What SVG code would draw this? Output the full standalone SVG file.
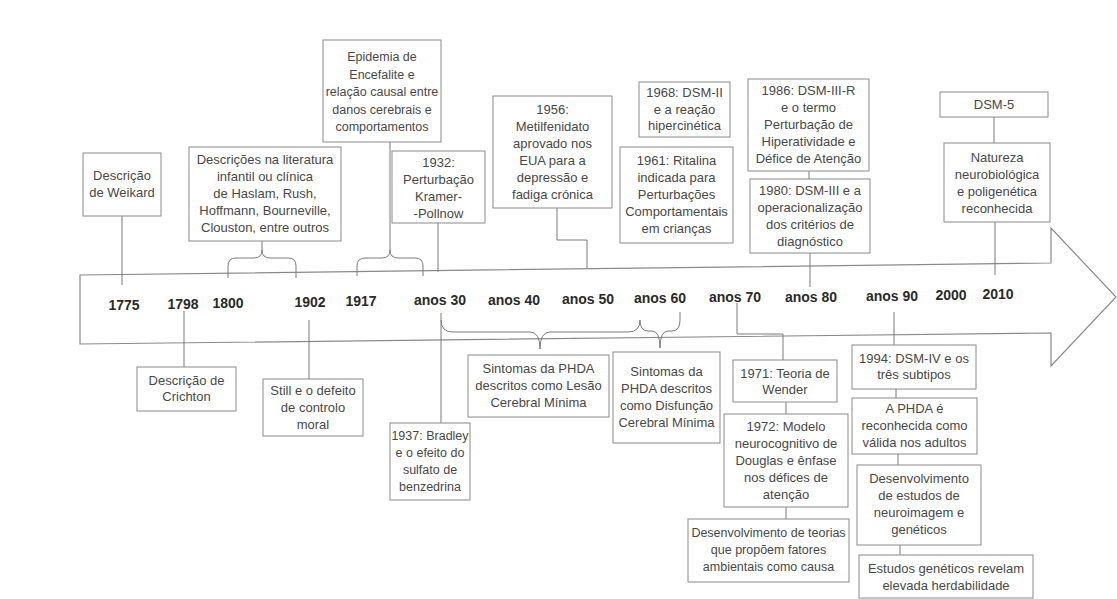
<svg xmlns="http://www.w3.org/2000/svg" width="1117" height="599" viewBox="0 0 1117 599">
<style>
.bx{fill:#fff;stroke:#8a8a8a;stroke-width:1}
.t{font-family:"Liberation Sans",Arial,sans-serif;font-size:13px;fill:#484848;text-anchor:middle}
.s{font-size:12.5px}
.yr{font-family:"Liberation Sans",Arial,sans-serif;font-size:14px;font-weight:bold;fill:#2a2a2a;text-anchor:middle}
.ln{fill:none;stroke:#7a7a7a;stroke-width:1}
.ax{fill:#fff;stroke:#8a8a8a;stroke-width:1.2}
</style>
<rect width="1117" height="599" fill="#fff"/>
<g id="timeline-axis">
<polygon class="ax" points="80,275 1051,263 1051,228 1116,297 1051,366 1051,333 80,344"/>
<text class="yr" x="124" y="310">1775</text>
<text class="yr" x="183" y="309">1798</text>
<text class="yr" x="228" y="308">1800</text>
<text class="yr" x="310" y="307">1902</text>
<text class="yr" x="361" y="306">1917</text>
<text class="yr" x="440" y="305">anos 30</text>
<text class="yr" x="514" y="305">anos 40</text>
<text class="yr" x="588" y="304">anos 50</text>
<text class="yr" x="660" y="303">anos 60</text>
<text class="yr" x="735" y="302">anos 70</text>
<text class="yr" x="811" y="302">anos 80</text>
<text class="yr" x="892" y="301">anos 90</text>
<text class="yr" x="951" y="300">2000</text>
<text class="yr" x="998" y="299">2010</text>
</g>
<g id="connectors">
<path class="ln" d="M122,216 V285"/>
<path class="ln" d="M228,278 V266 Q228,258 236,258 H254 Q262,258 262,250 Q262,258 270,258 H288 Q296,258 296,266 V278 M262,250 V241"/>
<path class="ln" d="M357,276 V266 Q357,258 365,258 H382 Q390,258 390,250 Q390,258 398,258 H415 Q423,258 423,266 V276 M390,250 V142"/>
<path class="ln" d="M438,223 V272"/>
<path class="ln" d="M557,208 V240 H587 V268"/>
<path class="ln" d="M809,171 V179"/>
<path class="ln" d="M810,253 V287"/>
<path class="ln" d="M994,117 V143"/>
<path class="ln" d="M995,222 V275"/>
<path class="ln" d="M184,311 V367"/>
<path class="ln" d="M309,320 V379"/>
<path class="ln" d="M441,313 V423"/>
<path class="ln" d="M441,320 Q441,332 453,332 H530 Q540,332 540,349 Q540,332 550,332 H628 Q640,332 640,320"/>
<path class="ln" d="M640,320 Q640,331 648,331 H652 Q660,331 660,348 Q660,331 668,331 H672 Q680,331 680,320 V312"/>
<path class="ln" d="M737,303 V334 H783 V360"/>
<path class="ln" d="M786,402 V414"/>
<path class="ln" d="M786,507 V519"/>
<path class="ln" d="M894,312 V345"/>
<path class="ln" d="M896,389 V398"/>
<path class="ln" d="M898,454 V465"/>
<path class="ln" d="M900,545 V555"/>
</g>
<g id="weikard">
<rect class="bx" x="83" y="153" width="78" height="63"/>
<text class="t" y="180"><tspan x="122">Descrição</tspan><tspan x="122" dy="17">de Weikard</tspan></text>
</g>
<g id="descricoes">
<rect class="bx" x="189" y="147" width="152" height="94"/>
<text class="t" y="164"><tspan x="265">Descrições na literatura</tspan><tspan x="265" dy="17">infantil ou clínica</tspan><tspan x="265" dy="17">de Haslam, Rush,</tspan><tspan x="265" dy="17">Hoffmann, Bourneville,</tspan><tspan x="265" dy="17">Clouston, entre outros</tspan></text>
</g>
<g id="epidemia">
<rect class="bx" x="323" y="40" width="118" height="102"/>
<text class="t s" y="61"><tspan x="382">Epidemia de</tspan><tspan x="382" dy="17.5">Encefalite e</tspan><tspan x="382" dy="17.5">relação causal entre</tspan><tspan x="382" dy="17.5">danos cerebrais e</tspan><tspan x="382" dy="17.5">comportamentos</tspan></text>
</g>
<g id="kramer">
<rect class="bx" x="392" y="151" width="93" height="72"/>
<text class="t" y="167"><tspan x="438.5">1932:</tspan><tspan x="438.5" dy="17">Perturbação</tspan><tspan x="438.5" dy="17">Kramer-</tspan><tspan x="438.5" dy="17">-Pollnow</tspan></text>
</g>
<g id="metilfenidato">
<rect class="bx" x="493" y="96" width="119" height="112"/>
<text class="t" y="114"><tspan x="552.5">1956:</tspan><tspan x="552.5" dy="17">Metilfenidato</tspan><tspan x="552.5" dy="17">aprovado nos</tspan><tspan x="552.5" dy="17">EUA para a</tspan><tspan x="552.5" dy="17">depressão e</tspan><tspan x="552.5" dy="17">fadiga crónica</tspan></text>
</g>
<g id="dsm2">
<rect class="bx" x="639" y="82" width="91" height="55"/>
<text class="t" y="97"><tspan x="684.5">1968: DSM-II</tspan><tspan x="684.5" dy="16.5">e a reação</tspan><tspan x="684.5" dy="16.5">hipercinética</tspan></text>
</g>
<g id="ritalina">
<rect class="bx" x="620" y="147" width="113" height="96"/>
<text class="t" y="165"><tspan x="676.5">1961: Ritalina</tspan><tspan x="676.5" dy="17">indicada para</tspan><tspan x="676.5" dy="17">Perturbações</tspan><tspan x="676.5" dy="17">Comportamentais</tspan><tspan x="676.5" dy="17">em crianças</tspan></text>
</g>
<g id="dsm3r">
<rect class="bx" x="748" y="79" width="121" height="92"/>
<text class="t" y="95"><tspan x="808.5">1986: DSM-III-R</tspan><tspan x="808.5" dy="17">e o termo</tspan><tspan x="808.5" dy="17">Perturbação de</tspan><tspan x="808.5" dy="17">Hiperatividade e</tspan><tspan x="808.5" dy="17">Défice de Atenção</tspan></text>
</g>
<g id="dsm3">
<rect class="bx" x="750" y="179" width="120" height="74"/>
<text class="t" y="195"><tspan x="810">1980: DSM-III e a</tspan><tspan x="810" dy="17">operacionalização</tspan><tspan x="810" dy="17">dos critérios de</tspan><tspan x="810" dy="17">diagnóstico</tspan></text>
</g>
<g id="dsm5">
<rect class="bx" x="940" y="92" width="108" height="25"/>
<text class="t" x="994" y="109">DSM-5</text>
</g>
<g id="natureza">
<rect class="bx" x="944" y="143" width="106" height="79"/>
<text class="t" y="162"><tspan x="997">Natureza</tspan><tspan x="997" dy="17">neurobiológica</tspan><tspan x="997" dy="17">e poligenética</tspan><tspan x="997" dy="17">reconhecida</tspan></text>
</g>
<g id="crichton">
<rect class="bx" x="137" y="367" width="99" height="44"/>
<text class="t" y="385"><tspan x="186.5">Descrição de</tspan><tspan x="186.5" dy="16">Crichton</tspan></text>
</g>
<g id="still">
<rect class="bx" x="263" y="379" width="100" height="57"/>
<text class="t" y="395"><tspan x="313">Still e o defeito</tspan><tspan x="313" dy="17">de controlo</tspan><tspan x="313" dy="17">moral</tspan></text>
</g>
<g id="bradley">
<rect class="bx" x="390" y="423" width="80" height="77"/>
<text class="t s" y="440"><tspan x="430">1937: Bradley</tspan><tspan x="430" dy="17">e o efeito do</tspan><tspan x="430" dy="17">sulfato de</tspan><tspan x="430" dy="17">benzedrina</tspan></text>
</g>
<g id="lesao">
<rect class="bx" x="468" y="355" width="141" height="62"/>
<text class="t" y="373"><tspan x="538.5">Sintomas da PHDA</tspan><tspan x="538.5" dy="17">descritos como Lesão</tspan><tspan x="538.5" dy="17">Cerebral Mínima</tspan></text>
</g>
<g id="disfuncao">
<rect class="bx" x="613" y="352" width="107" height="91"/>
<text class="t" y="376"><tspan x="666.5">Sintomas da</tspan><tspan x="666.5" dy="17">PHDA descritos</tspan><tspan x="666.5" dy="17">como Disfunção</tspan><tspan x="666.5" dy="17">Cerebral Mínima</tspan></text>
</g>
<g id="wender">
<rect class="bx" x="733" y="360" width="104" height="42"/>
<text class="t" y="378"><tspan x="785">1971: Teoria de</tspan><tspan x="785" dy="16">Wender</tspan></text>
</g>
<g id="douglas">
<rect class="bx" x="724" y="414" width="124" height="93"/>
<text class="t" y="431"><tspan x="786">1972: Modelo</tspan><tspan x="786" dy="17">neurocognitivo de</tspan><tspan x="786" dy="17">Douglas e ênfase</tspan><tspan x="786" dy="17">nos défices de</tspan><tspan x="786" dy="17">atenção</tspan></text>
</g>
<g id="ambientais">
<rect class="bx" x="688" y="519" width="161" height="63"/>
<text class="t s" y="537"><tspan x="768.5">Desenvolvimento de teorias</tspan><tspan x="768.5" dy="17">que propõem fatores</tspan><tspan x="768.5" dy="17">ambientais como causa</tspan></text>
</g>
<g id="dsm4">
<rect class="bx" x="852" y="345" width="124" height="44"/>
<text class="t" y="363"><tspan x="914">1994: DSM-IV e os</tspan><tspan x="914" dy="16">três subtipos</tspan></text>
</g>
<g id="adultos">
<rect class="bx" x="852" y="398" width="125" height="56"/>
<text class="t" y="413"><tspan x="914.5">A PHDA é</tspan><tspan x="914.5" dy="17">reconhecida como</tspan><tspan x="914.5" dy="17">válida nos adultos</tspan></text>
</g>
<g id="neuroimagem">
<rect class="bx" x="857" y="465" width="124" height="80"/>
<text class="t" y="483"><tspan x="919">Desenvolvimento</tspan><tspan x="919" dy="17">de estudos de</tspan><tspan x="919" dy="17">neuroimagem e</tspan><tspan x="919" dy="17">genéticos</tspan></text>
</g>
<g id="herdabilidade">
<rect class="bx" x="859" y="555" width="174" height="43"/>
<text class="t" y="573"><tspan x="946">Estudos genéticos revelam</tspan><tspan x="946" dy="17">elevada herdabilidade</tspan></text>
</g>
</svg>
